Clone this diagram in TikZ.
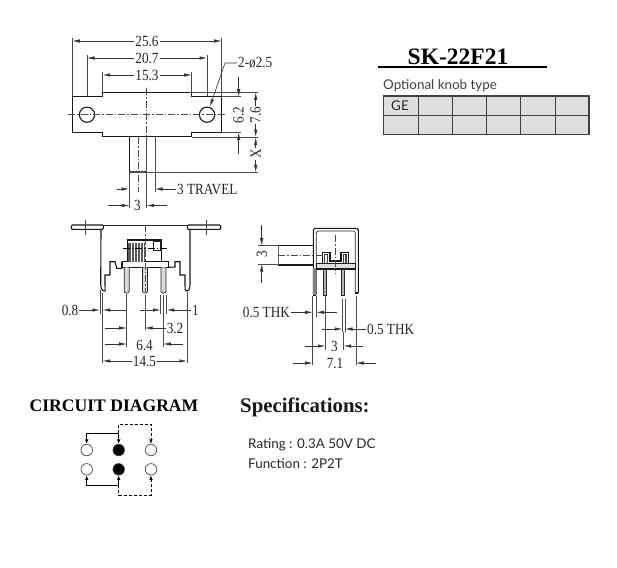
\documentclass[tikz,border=0pt]{standalone}
\usepackage{fontspec}
\usetikzlibrary{arrows.meta, decorations.pathmorphing}
\setmainfont{Liberation Serif}
\newfontfamily\dimfont[FakeStretch=0.85]{Liberation Serif}
\newfontfamily\specfont{Lato}

\tikzset{
  part/.style={line width=1.1pt, black!90},
  thin part/.style={line width=0.7pt, black!85},
  extline/.style={line width=0.6pt, black!70},
  centerline/.style={line width=0.45pt, black!70, dash pattern=on 7pt off 2pt on 1.5pt off 2pt},
  dimline/.style={line width=0.6pt, black!80, -{Latex[length=7.5pt,width=3.4pt]}},
  dimtext/.style={font=\dimfont\fontsize{15.5}{15.5}\selectfont, inner sep=1pt, text=black!85},
  heading/.style={font=\bfseries\fontsize{17.6}{18}\selectfont, inner sep=0pt},
  spec/.style={font=\specfont\fontsize{13.4}{14}\selectfont, inner sep=0pt, anchor=west, text=black!85},
  terminal/.style={circle, draw=black!80, line width=0.6pt, fill=white, minimum size=11.5pt, inner sep=0pt},
  common/.style={terminal, fill=black},
  wire/.style={line width=0.8pt, black, -{Latex[length=4.5pt,width=3.6pt]}},
  dashwire/.style={wire, densely dashed}
}

\begin{document}
\begin{tikzpicture}[x=1pt,y=-1pt]
    \useasboundingbox (0,0) rectangle (617,567);

    % top view of the switch
    \draw[part] (72.3,96.7) -- (102.7,96.7) -- (102.7,92.3) -- (191.7,92.3) -- (191.7,96.7) -- (221.7,96.7)
        -- (221.7,132.3) -- (191.7,132.3) -- (191.7,136.7) -- (102.7,136.7) -- (102.7,132.3) -- (72.3,132.3) -- cycle;
    \draw[part] (87,114.7) circle (7.6);
    \draw[part] (207,114.7) circle (7.6);
    \draw[centerline] (68,114.7) -- (226,114.7);
    \draw[part] (129.3,136.7) -- (129.3,172) (146.3,136.7) -- (146.3,172);
    \draw[part, decorate, decoration={snake,amplitude=0.6pt,segment length=3pt}] (129.3,172) -- (146.3,172);
    \draw[centerline] (138,137) -- (138,192);
    \draw[centerline] (146.7,88) -- (146.7,137);

    % top view extension lines
    \draw[extline] (72.3,38) -- (72.3,96) (221.7,38) -- (221.7,96);
    \draw[extline] (87,55) -- (87,96) (207,55) -- (207,96);
    \draw[extline] (102.7,72) -- (102.7,92) (191.7,72) -- (191.7,92);
    \draw[extline] (192,92.3) -- (258,92.3) (222,96.7) -- (241,96.7);
    \draw[extline] (222,132.3) -- (241,132.3) (192,137) -- (258,137);
    \draw[extline] (130,172.3) -- (258,172.3);
    \draw[extline] (129.3,172) -- (129.3,208) (146.7,137) -- (146.7,208);
    \draw[extline] (155,137) -- (155,192);

    % top view dimensions
    \node[dimtext] (w256) at (147,41) {25.6};
    \draw[dimline] (w256) -- (72.3,41);
    \draw[dimline] (w256) -- (221.7,41);
    \node[dimtext] (w207) at (147,58) {20.7};
    \draw[dimline] (w207) -- (87,58);
    \draw[dimline] (w207) -- (207,58);
    \node[dimtext] (w153) at (147,75) {15.3};
    \draw[dimline] (w153) -- (102.7,75);
    \draw[dimline] (w153) -- (191.7,75);
    \node[dimtext, anchor=west] (hole) at (237,63) {2-ø2.5};
    \draw[dimline] (hole.west) -- (225,63) -- (210,106.5);
    \draw[dimline] (238.7,77) -- (238.7,96.7);
    \draw[dimline] (238.7,154) -- (238.7,132.3);
    \node[dimtext, rotate=90] (h62) at (238.7,115) {6.2};
    \node[dimtext, rotate=90] (h76) at (255.7,115) {7.6};
    \draw[dimline] (h76) -- (255.7,92.3);
    \draw[dimline] (h76) -- (255.7,137);
    \node[dimtext, rotate=90] (xlen) at (255.7,154) {X};
    \draw[dimline] (xlen) -- (255.7,137.5);
    \draw[dimline] (xlen) -- (255.7,172.3);
    \node[dimtext, anchor=west] (travel) at (176,189) {3 TRAVEL};
    \draw[dimline] (116.7,189) -- (129,189);
    \draw[dimline] (travel) -- (155,189);
    \node[dimtext] (stem) at (137.5,205.5) {3};
    \draw[dimline] (108,205.5) -- (129.3,205.5);
    \draw[dimline] (167,205.5) -- (146.7,205.5);

    % front view
    \draw[part, fill=white, rounded corners=1pt] (71.3,225) -- (103.3,225) -- (103.3,229.3) -- (71.3,229.3) -- cycle;
    \draw[part, fill=white, rounded corners=1pt] (187.3,225) -- (220.7,225) -- (220.7,229.3) -- (187.3,229.3) -- cycle;
    \draw[thin part] (103.3,225) -- (187.3,225);
    \draw[extline] (85.3,220) -- (85.3,235) (206,220) -- (206,235);
    \draw[part] (101,229.3) -- (100.7,285) .. controls (101,291) and (104,291) .. (105,291)
        .. controls (105.5,291) and (105,288) .. (105,285) -- (105,275) -- (110,275) -- (110,261.7) -- (115,261.7)
        -- (116.7,268.3) -- (121.7,268.3) -- (121.7,261.7);
    \draw[part] (190,229.3) -- (190,285) .. controls (190,291) and (187,291) .. (186,291)
        .. controls (185,291) and (185,288) .. (185,285) -- (185,275) -- (180,275) -- (180,261.7) -- (175,261.7)
        -- (175,267) -- (168.3,267.3);
    \draw[part] (122.7,261.7) rectangle (168.3,267.3);
    \foreach \pinx in {126.7,145,163.5} {
      \draw[thin part, fill=black!15, rounded corners=2pt] (\pinx-2.5,267.3) -- (\pinx-2.5,293) -- (\pinx+2.5,293) -- (\pinx+2.5,267.3);
    }
    \draw[part] (127.7,261.7) -- (127.7,240) -- (161.7,240) -- (161.7,261.7);
    \fill[black!65] (128.3,243.3) rectangle (145,261.7);
    \foreach \hatchx in {131,134,137,140,143} {
      \draw[white, line width=0.4pt] (\hatchx,243.3) -- (\hatchx,261.7);
    }
    \draw[thin part] (153.3,241) rectangle (160,250);
    \draw[centerline, black] (122.7,248.3) -- (166.7,248.3);
    \draw[centerline] (145,225) -- (145,292);

    % front view extension lines
    \draw[extline] (100,290) -- (100,314) (102.7,293) -- (102.7,363);
    \draw[extline] (126.7,294) -- (126.7,347) (145,295) -- (145,330);
    \draw[extline] (160.7,295) -- (160.7,314) (166.7,295) -- (166.7,314);
    \draw[extline] (163.3,295) -- (163.3,347) (187,292) -- (187,363);

    % front view dimensions
    \node[dimtext] (pinw) at (70,310) {0.8};
    \draw[dimline] (pinw) -- (100,310);
    \draw[dimline] (126.7,310) -- (102.7,310);
    \node[dimtext] (pitch) at (195.5,310) {1};
    \draw[dimline] (140,310) -- (160.7,310);
    \draw[dimline] (pitch) -- (166.7,310);
    \node[dimtext] (half) at (175,328) {3.2};
    \draw[dimline] (105,328) -- (126.7,328);
    \draw[dimline] (half) -- (145,328);
    \node[dimtext] (full) at (144.5,345) {6.4};
    \draw[dimline] (105,344) -- (126.7,344);
    \draw[dimline] (183,344) -- (163.3,344);
    \node[dimtext] (total) at (144.5,361) {14.5};
    \draw[dimline] (total) -- (102.7,361);
    \draw[dimline] (total) -- (187,361);

    % side view
    \draw[part, rounded corners=1.5pt] (313.3,295) -- (313.3,228.3) -- (358.3,228.3) -- (358.3,293);
    \draw[thin part, rounded corners=1.5pt] (316.3,295) -- (316.3,231) -- (355.3,231) -- (355.3,293);
    \draw[part] (313.3,295) -- (316.3,295) (355.3,293) -- (358.3,293);
    \fill[black!50] (313.3,268) rectangle (316.3,295);
    \draw[part] (313.3,245.7) -- (278.3,245.7) -- (278.3,265) -- (313.3,265);
    \draw[line width=1.4pt, black!60] (278.6,246) -- (278.6,264.7);
    \draw[part, fill=black!12] (316.3,263.3) rectangle (355.3,269);
    \draw[part] (322.3,263.3) -- (322.3,252.3) -- (330,252.3) -- (330,261) -- (341,261) -- (341,252.3) -- (348.3,252.3) -- (348.3,263.3);
    \draw[line width=1.2pt, black!75] (324.5,263) -- (324.5,254.5) -- (327.5,254.5) -- (327.5,263) (343.5,263) -- (343.5,254.5) -- (346,254.5) -- (346,263);
    \foreach \pinx in {325,343} {
      \draw[thin part, fill=black!30] (\pinx-1.5,269) rectangle (\pinx+1.5,295);
    }
    \draw[centerline] (278,255) -- (323,255);
    \draw[centerline] (335,235) -- (335,273);

    % side view extension lines
    \draw[extline] (258,245.7) -- (278,245.7) (258,264) -- (278,264);
    \draw[extline] (312.7,296) -- (312.7,365) (316.3,296) -- (316.3,317);
    \draw[extline] (325.3,296) -- (325.3,350) (342.3,299) -- (342.3,332) (345,299) -- (345,332);
    \draw[extline] (343.7,332) -- (343.7,350) (356,296) -- (356,365);

    % side view dimensions
    \node[dimtext, rotate=90] (knob) at (261.7,254.5) {3};
    \draw[dimline] (261.7,225) -- (261.7,245.7);
    \draw[dimline] (261.7,283) -- (261.7,264);
    \node[dimtext, anchor=east] (thka) at (291,312.3) {0.5 THK};
    \draw[dimline] (thka) -- (312.7,312.3);
    \draw[dimline] (337,312.3) -- (316.3,312.3);
    \node[dimtext, anchor=west] (thkb) at (366,329) {0.5 THK};
    \draw[dimline] (322,329) -- (342.3,329);
    \draw[dimline] (thkb) -- (345,329);
    \node[dimtext] (pins) at (334.5,346.5) {3};
    \draw[dimline] (305,346) -- (325.3,346);
    \draw[dimline] (363,346) -- (343.7,346);
    \node[dimtext] (depth) at (335,363.5) {7.1};
    \draw[dimline] (293,363) -- (312.7,363);
    \draw[dimline] (376,363) -- (356,363);

    % part number and knob table
    \node[inner sep=0pt, font=\bfseries\fontsize{23.5}{24}\selectfont] (title) at (458,57) {SK-22F21};
    \draw[line width=1.4pt] (378,67) -- (547,67);
    \node[spec, text=black!75] (knobs) at (383,85.5) {Optional knob type};
    \fill[black!13] (383.3,96) rectangle (589,134.3);
    \foreach \colx in {418.3,452.3,486.7,520.7,555} {
      \draw[line width=0.8pt, black!75] (\colx,96) -- (\colx,134.3);
    }
    \draw[line width=0.8pt, black!75] (383.3,115.3) -- (589,115.3);
    \draw[line width=1.1pt, black!75] (383.3,96) rectangle (589,134.3);
    \node[spec, anchor=center] (ge) at (400,105.5) {GE};

    % specifications
    \node[heading] (circuit) at (114,406) {CIRCUIT DIAGRAM};
    \node[heading, anchor=west, font=\bfseries\fontsize{20.8}{21}\selectfont, text=black!90] (specs) at (240,407) {Specifications:};
    \node[spec] (rating) at (248,444.5) {Rating : 0.3A 50V DC};
    \node[spec] (function) at (248,463.5) {Function : 2P2T};

    % circuit diagram
    \node[terminal] (tl) at (86.7,450) {};
    \node[common]   (tm) at (118.7,450) {};
    \node[terminal] (tr) at (151,450) {};
    \node[terminal] (bl) at (86.7,469.3) {};
    \node[common]   (bm) at (118.7,469.3) {};
    \node[terminal] (br) at (151,469.3) {};
    \coordinate (topjoin) at (118.7,433.3);
    \coordinate (topdash) at (118.7,424.3);
    \coordinate (botjoin) at (118.7,485);
    \coordinate (botdash) at (118.7,495);

    \draw[wire] (topjoin) -- (tm);
    \draw[wire] (topjoin) -| (tl);
    \draw[wire] (botjoin) -- (bm);
    \draw[wire] (botjoin) -| (bl);
    \draw[dashwire] (topjoin) -- (topdash) -| (tr);
    \draw[dashwire] (botjoin) -- (botdash) -| (br);
\end{tikzpicture}
\end{document}
